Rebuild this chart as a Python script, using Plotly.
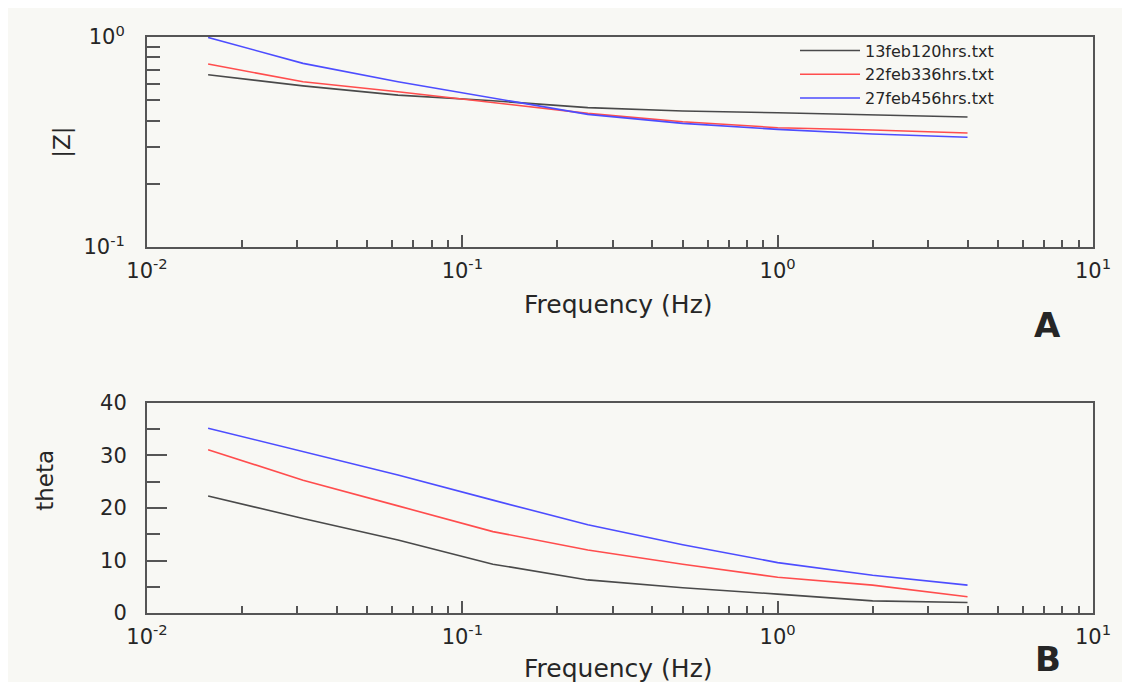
import plotly.graph_objects as go
from plotly.subplots import make_subplots

# frequencies (Hz) of the measured points
freq = [1/64, 1/32, 1/16, 1/8, 1/4, 1/2, 1, 2, 4]

# |Z| per file
z_13feb = [0.661, 0.585, 0.529, 0.497, 0.461, 0.444, 0.436, 0.425, 0.416]
z_22feb = [0.744, 0.612, 0.549, 0.487, 0.433, 0.395, 0.370, 0.361, 0.349]
z_27feb = [0.995, 0.749, 0.612, 0.511, 0.428, 0.388, 0.363, 0.345, 0.333]

# phase angle per file
theta_13feb = [22.3, 18.0, 13.9, 9.3, 6.3, 4.8, 3.6, 2.3, 2.0]
theta_22feb = [31.1, 25.3, 20.4, 15.5, 12.0, 9.3, 6.8, 5.3, 3.1]
theta_27feb = [35.2, 30.7, 26.3, 21.5, 16.8, 13.0, 9.6, 7.2, 5.3]

names = ['13feb120hrs.txt', '22feb336hrs.txt', '27feb456hrs.txt']
colors = ['#4a4a4a', '#ff4d4d', '#4d4dff']

x_ticks = [0.01, 0.1, 1, 10]
x_ticktext = ['10<sup>-2</sup>', '10<sup>-1</sup>', '10<sup>0</sup>', '10<sup>1</sup>']
x_minor = [k * 10 ** e for e in (-2, -1, 0) for k in range(2, 10)]
z_ticks = [0.1, 1]
z_ticktext = ['10<sup>-1</sup>', '10<sup>0</sup>']
z_minor = [k / 10 for k in range(2, 10)]
theta_ticks = [0, 10, 20, 30, 40]
theta_minor = [5, 15, 25, 35]

BG = '#f8f8f4'
AX = '#555555'
TXT = '#262626'
FONT = 'DejaVu Sans, Arial, sans-serif'

fig = make_subplots(rows=2, cols=1, vertical_spacing=0.2708)

for name, color, z in zip(names, colors, [z_13feb, z_22feb, z_27feb]):
    fig.add_trace(go.Scatter(x=freq, y=z, mode='lines', name=name,
                             line=dict(color=color, width=1.6)), row=1, col=1)

for name, color, th in zip(names, colors, [theta_13feb, theta_22feb, theta_27feb]):
    fig.add_trace(go.Scatter(x=freq, y=th, mode='lines', name=name, showlegend=False,
                             line=dict(color=color, width=1.6)), row=2, col=1)

axis_common = dict(showline=True, linecolor=AX, linewidth=2, mirror=True,
                   showgrid=False, zeroline=False, ticks='inside', tickcolor=AX,
                   tickwidth=2, tickfont=dict(family=FONT, size=21, color=TXT))

for r in (1, 2):
    fig.update_xaxes(type='log', range=[-2, 1], tickmode='array', tickvals=x_ticks,
                     ticktext=x_ticktext, ticklen=12, ticklabelstandoff=4,
                     minor=dict(tickmode='array', tickvals=x_minor, ticks='inside',
                                ticklen=7, tickcolor=AX, tickwidth=2),
                     row=r, col=1, **axis_common)

fig.update_yaxes(type='log', range=[-1, 0], tickmode='array', tickvals=z_ticks,
                 ticktext=z_ticktext, ticklen=0, ticklabelstandoff=16,
                 minor=dict(tickmode='array', tickvals=z_minor, ticks='inside',
                            ticklen=13, tickcolor=AX, tickwidth=2),
                 row=1, col=1, **axis_common)

fig.update_yaxes(range=[0, 40], tickmode='array', tickvals=theta_ticks, ticklen=20,
                 ticklabelstandoff=14,
                 minor=dict(tickmode='array', tickvals=theta_minor, ticks='inside',
                            ticklen=13, tickcolor=AX, tickwidth=2),
                 row=2, col=1, **axis_common)

annotations = [
    dict(text='|Z|', x=-0.09, y=0.818, textangle=-90, font=dict(size=23)),
    dict(text='theta', x=-0.108, y=0.231, textangle=-90, font=dict(size=23)),
    dict(text='Frequency (Hz)', x=0.498, y=0.535, font=dict(size=25)),
    dict(text='Frequency (Hz)', x=0.498, y=-0.097, font=dict(size=25)),
    dict(text='<b>A</b>', x=0.952, y=0.5, font=dict(size=34)),
    dict(text='<b>B</b>', x=0.952, y=-0.117, yanchor='bottom', font=dict(size=34)),
]
for a in annotations:
    a.update(xref='paper', yref='paper', showarrow=False, xanchor='center', borderpad=0)
    a.setdefault('yanchor', 'middle')
    a['font']['family'] = FONT
    a['font']['color'] = TXT

# the page body keeps an 8px white margin, which gives the thin white frame
fig.update_layout(
    width=1114, height=674,
    margin=dict(l=139, r=29, t=29, b=69),
    paper_bgcolor=BG,
    plot_bgcolor=BG,
    annotations=annotations,
    showlegend=True,
    legend=dict(x=0.685, y=1.006, xanchor='left', yanchor='top',
                bgcolor='rgba(0,0,0,0)', itemwidth=60,
                font=dict(family=FONT, size=16, color=TXT), tracegroupgap=0),
)

fig.write_html('out.html')
